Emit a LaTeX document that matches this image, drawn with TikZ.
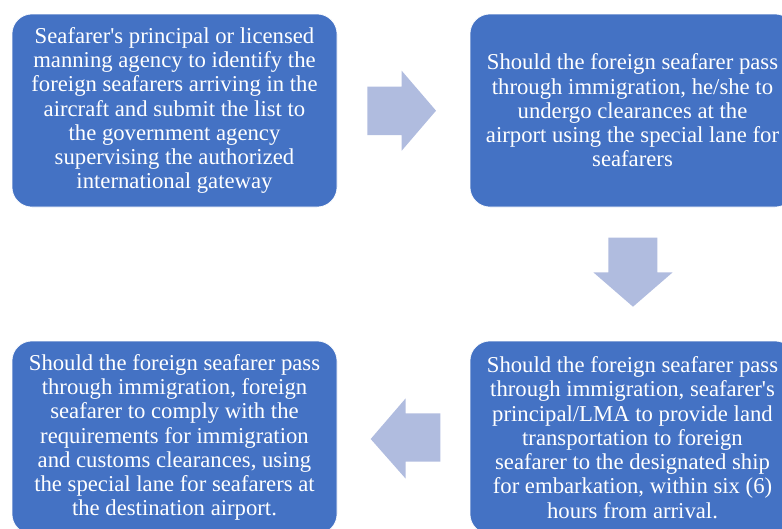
\documentclass[tikz,border=0pt]{standalone}
\usepackage{fontspec}
\setmainfont{Liberation Serif}
\definecolor{boxblue}{HTML}{4472C4}
\definecolor{arrowblue}{HTML}{B0BCDF}
\newcommand{\sq}{\textquotesingle}
\begin{document}
\begin{tikzpicture}[x=1pt,y=-1pt,
  stepbox/.style={draw=white, line width=0.6pt, fill=boxblue, rounded corners=20pt,
    minimum width=325pt, minimum height=193pt, inner sep=0pt, text=white,
    align=center, font=\fontsize{22.7}{24.3}\selectfont},
  blockarrow/.style={fill=arrowblue}]
\useasboundingbox (0,0) rectangle (782,528);
\clip (0,0) rectangle (782,528);
\node[stepbox] (b1) at (174.5,110.5) {Seafarer\sq s principal or licensed\\manning agency to identify the\\foreign seafarers arriving in the\\aircraft and submit the list to\\the government agency\\supervising the authorized\\international gateway};
\node[stepbox] (b2) at (632.5,110.5) {Should the foreign seafarer pass\\through immigration, he/she to\\undergo clearances at the\\airport using the special lane for\\seafarers};
\node[stepbox] (b3) at (632.5,437.5) {Should the foreign seafarer pass\\through immigration, seafarer\sq s\\principal/LMA to provide land\\transportation to foreign\\seafarer to the designated ship\\for embarkation, within six (6)\\hours from arrival.};
\node[stepbox] (b4) at (174.5,437.5) {Should the foreign seafarer pass\\through immigration, foreign\\seafarer to comply with the\\requirements for immigration\\and customs clearances, using\\the special lane for seafarers at\\the destination airport.};
% right arrow
\fill[blockarrow] (367.3,86.7) -- (401.7,86.7) -- (401.7,70.7) -- (436,110.7) -- (401.7,150.7) -- (401.7,135) -- (367.3,135) -- cycle;
% down arrow
\fill[blockarrow] (608.3,237.7) -- (657.3,237.7) -- (657.3,272.3) -- (672.7,272.3) -- (633,306.7) -- (593.3,272.3) -- (608.3,272.3) -- cycle;
% left arrow
\fill[blockarrow] (440.3,413.3) -- (405.7,413.3) -- (405.7,398.3) -- (370.7,439) -- (405.7,478.7) -- (405.7,461.7) -- (440.3,461.7) -- cycle;
\end{tikzpicture}
\end{document}
